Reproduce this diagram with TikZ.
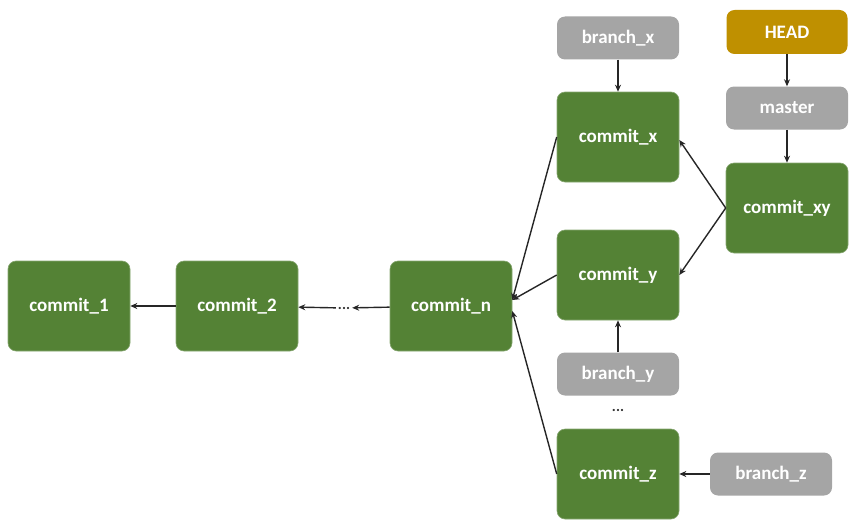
\documentclass[tikz,border=0pt]{standalone}
\usepackage{fontspec}
\setmainfont{Carlito}
\usetikzlibrary{arrows.meta}
\definecolor{commitgreen}{HTML}{548235}
\definecolor{refgrey}{HTML}{A5A5A5}
\definecolor{headgold}{HTML}{BF9000}
\tikzset{
  box/.style={rounded corners=8pt, text=white, font=\fontsize{19}{22}\selectfont\bfseries,
              inner sep=0pt, align=center},
  commitbox/.style={box, fill=commitgreen, draw=commitgreen!70!white, line width=0.6pt,
                    minimum width=122pt, minimum height=90pt},
  refbox/.style={box, fill=refgrey, minimum width=122pt, minimum height=43pt},
  headbox/.style={box, fill=headgold, minimum width=121pt, minimum height=44pt},
  dots/.style={font=\fontsize{15}{17}\selectfont\bfseries, text=black!80, inner sep=2pt},
  link/.style={draw=black!85, line width=1.4pt, -{Stealth[length=7pt,width=6pt]}}
}
\begin{document}
\begin{tikzpicture}[x=1pt,y=1pt]
\useasboundingbox (0,0) rectangle (856,-527);

% main line of history
\node[commitbox] (c1) at (69,-306) {commit\_1};
\node[commitbox] (c2) at (237,-306) {commit\_2};
\node[dots] (d1) at (344,-308) {...};
\node[commitbox] (cn) at (451,-306) {commit\_n};

% commits on the branches
\node[commitbox] (cx) at (618,-137) {commit\_x};
\node[commitbox] (cy) at (618,-275) {commit\_y};
\node[commitbox] (cz) at (618,-474) {commit\_z};
\node[commitbox] (cxy) at (787,-208) {commit\_xy};

% references
\node[refbox] (bx) at (618,-38) {branch\_x};
\node[headbox] (head) at (787,-32) {HEAD};
\node[refbox] (master) at (787,-108) {master};
\node[refbox] (by) at (618,-374) {branch\_y};
\node[dots] (d2) at (618,-410) {...};
\node[refbox] (bz) at (771,-474) {branch\_z};

% parent links
\draw[link] (c2) -- (c1);
\draw[link] (d1) -- (c2);
\draw[link] (cn) -- (d1);
\draw[link] (cx.west) -- ([yshift=6pt]cn.east);
\draw[link] (cy.west) -- ([yshift=6pt]cn.east);
\draw[link] (cz.west) -- ([yshift=-5pt]cn.east);
\draw[link] (cxy.west) -- ([yshift=-3pt]cx.east);
\draw[link] (cxy.west) -- (cy.east);

% reference pointers
\draw[link] (bx) -- (cx);
\draw[link] (head) -- (master);
\draw[link] (master) -- (cxy);
\draw[link] (by) -- (cy);
\draw[link] (bz) -- (cz);
\end{tikzpicture}
\end{document}
